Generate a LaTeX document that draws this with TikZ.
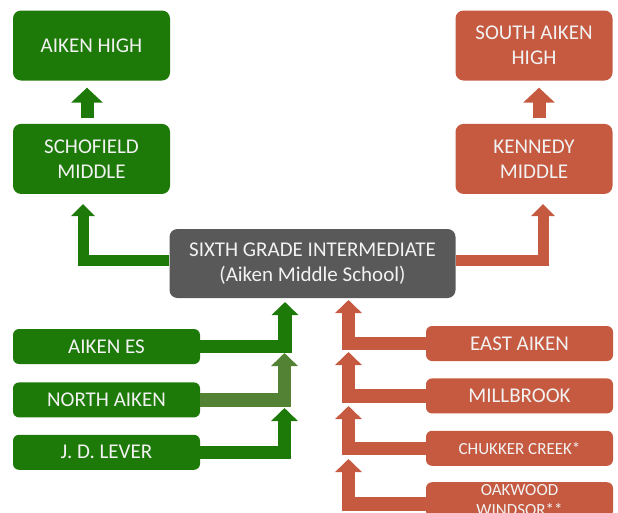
\documentclass[tikz,border=0pt]{standalone}
\usepackage{fontspec}
\setmainfont{Carlito}
\usetikzlibrary{positioning,arrows.meta}
\definecolor{schgreen}{RGB}{30,122,8}
\definecolor{schred}{RGB}{197,90,65}
\definecolor{schgray}{RGB}{89,89,89}
\definecolor{scholive}{RGB}{84,130,53}

\begin{document}
\begin{tikzpicture}[x=1pt, y=-1pt,
    tall/.style = {rounded corners=8pt, minimum width=157pt, minimum height=70pt, inner sep=0pt,
        align=center, text=white!95!black, font=\fontsize{21}{25}\selectfont},
    flat/.style = {rounded corners=6pt, minimum width=187pt, minimum height=35pt, inner sep=0pt,
        align=center, text=white!95!black, font=\fontsize{21}{25}\selectfont},
    hub/.style = {tall, fill=schgray, minimum width=286pt, minimum height=69pt},
    uparrow/.style = {line width=13pt, -{Triangle[width=31pt,length=15pt]}},
    bendarrow/.style = {line width=11pt, -{Triangle[width=23pt,length=12pt]}},
    feedarrow/.style = {line width=13.5pt, -{Triangle[width=26pt,length=13pt]}}]

    \clip (0,0) rectangle (618,512);

    % top of the chart
    \node[tall, fill=schgreen] (aikenhigh) at (91.5,45.5) {AIKEN HIGH};
    \node[tall, fill=schgreen] (schofield) [below=43pt of aikenhigh] {SCHOFIELD\\MIDDLE};
    \node[tall, fill=schred] (southaiken) at (534,45.5) {SOUTH AIKEN\\HIGH};
    \node[tall, fill=schred] (kennedy) [below=43pt of southaiken] {KENNEDY\\MIDDLE};
    \node[hub] (sixth) at (312.5,263.5) {SIXTH GRADE INTERMEDIATE\\(Aiken Middle School)};

    % feeder schools
    \node[flat, fill=schgreen] (aikenes) at (106.5,346.5) {AIKEN ES};
    \node[flat, fill=schgreen] (northaiken) [below=18pt of aikenes] {NORTH AIKEN};
    \node[flat, fill=schgreen] (lever) [below=17pt of northaiken] {J. D. LEVER};
    \node[flat, fill=schred] (eastaiken) at (519.5,343.5) {EAST AIKEN};
    \node[flat, fill=schred] (millbrook) [below=17pt of eastaiken] {MILLBROOK};
    \node[flat, fill=schred, font=\fontsize{17}{20}\selectfont] (chukker) [below=17pt of millbrook] {CHUKKER CREEK*};
    \node[flat, fill=schred, font=\fontsize{17}{20}\selectfont] (oakwood) [below=16pt of chukker] {OAKWOOD\\WINDSOR**};

    \coordinate (g1) at (285,302);
    \coordinate (g2) at (284.5,353);
    \coordinate (g3) at (284.5,408);
    \coordinate (r1) at (348.5,300);
    \coordinate (r2) at (348.5,352);
    \coordinate (r3) at (348.5,406);
    \coordinate (r4) at (348.5,459);

    \draw[uparrow, schgreen] ([xshift=-4.5pt,yshift=6pt]schofield.north) -- ([xshift=-4.5pt,yshift=-7pt]aikenhigh.south);
    \draw[uparrow, schred] ([xshift=5pt,yshift=6pt]kennedy.north) -- ([xshift=5pt,yshift=-7pt]southaiken.south);
    \draw[bendarrow, schgreen] ([yshift=3.5pt]sixth.west) -| ([xshift=-8.5pt,yshift=-10pt]schofield.south);
    \draw[bendarrow, schred] ([yshift=3.5pt]sixth.east) -| ([xshift=9pt,yshift=-10pt]kennedy.south);

    \draw[feedarrow, schgreen] (aikenes.east) -| (g1);
    \draw[feedarrow, scholive] (northaiken.east) -| (g2);
    \draw[feedarrow, schgreen] (lever.east) -| (g3);
    \draw[feedarrow, schred] (eastaiken.west) -| (r1);
    \draw[feedarrow, schred] (millbrook.west) -| (r2);
    \draw[feedarrow, schred] (chukker.west) -| (r3);
    \draw[feedarrow, schred] ([yshift=-4.5pt]oakwood.west) -| (r4);

\end{tikzpicture}
\end{document}
